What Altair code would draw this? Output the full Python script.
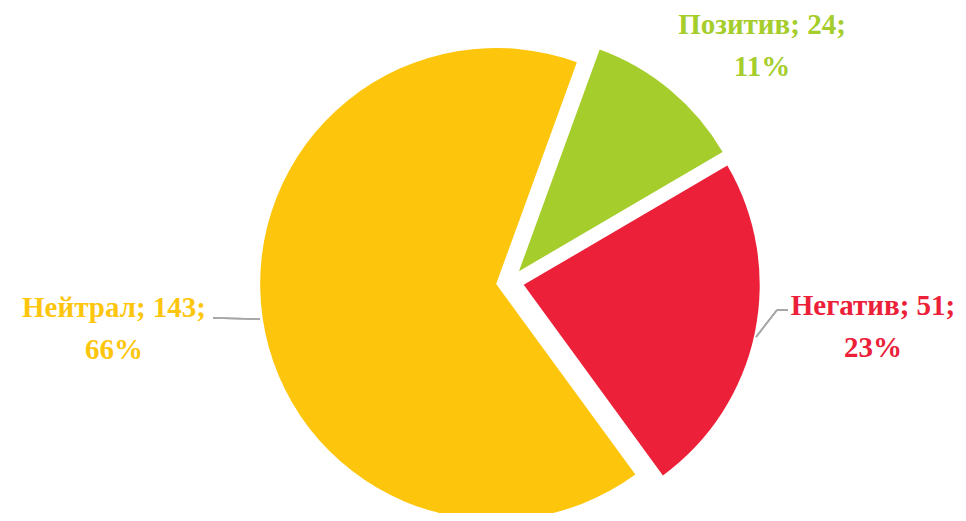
import math
import altair as alt
import pandas as pd

# ---- data ----
categories = ["Позитив", "Негатив", "Нейтрал"]
values = [24, 51, 143]
colors = ["#A5CD2B", "#EC2039", "#FDC60D"]

# ---- layout / style ----
W, H = 950, 505
CX, CY = 502, 274
R = 236
EXPLODE = 14
START = math.radians(20)
label_x = [754, 865, 106]
label_y = [26, 307, 309]
FONT = "Liberation Serif"
FS = 29
LH = 42

total = sum(values)
percents = [f"{round(v / total * 100)}%" for v in values]
labels = [f"{c}; {v};\n{p}" for c, v, p in zip(categories, values, percents)]

df = pd.DataFrame({"cat": categories, "value": values, "color": colors,
                   "order": list(range(len(values)))})

base = (
    alt.Chart(df)
    .transform_joinaggregate(total="sum(value)")
    .transform_window(cum="sum(value)", sort=[alt.SortField("order")], frame=[None, 0])
    .transform_calculate(
        t0=f"{START} + 2*PI*(datum.cum - datum.value)/datum.total",
        t1=f"{START} + 2*PI*datum.cum/datum.total",
    )
)

layers = []
cum = 0
for c, v in zip(categories, values):
    mid = START + 2 * math.pi * (cum + v / 2) / total
    cum += v
    dx = EXPLODE * math.sin(mid)
    dy = -EXPLODE * math.cos(mid)
    layers.append(
        base.transform_filter(alt.datum.cat == c)
        .mark_arc(outerRadius=R, xOffset=dx, yOffset=dy)
        .encode(
            theta=alt.Theta("t0:Q", scale=None),
            theta2=alt.Theta2("t1:Q"),
            color=alt.Color("color:N", scale=None),
            x=alt.value(CX),
            y=alt.value(CY),
        )
    )

ldf = pd.DataFrame({"label": labels, "color": colors, "lx": label_x, "ly": label_y})
text = alt.Chart(ldf).mark_text(
    font=FONT, fontSize=FS, fontWeight="bold", lineBreak="\n", lineHeight=LH,
    align="center", baseline="alphabetic",
).encode(
    x=alt.X("lx:Q", scale=None),
    y=alt.Y("ly:Q", scale=None),
    text="label:N",
    color=alt.Color("color:N", scale=None),
)

LINE = "#A6A6A6"
def seg(x1, y1, x2, y2):
    return alt.Chart(df).mark_rule(color=LINE, strokeWidth=1.5).encode(
        x=alt.value(x1), y=alt.value(y1), x2=alt.value(x2), y2=alt.value(y2)
    )

leaders = [seg(205, 310, 252, 311), seg(780, 302, 769, 302), seg(769, 302, 748, 329)]

chart = alt.layer(*layers, *leaders, text).properties(
    width=W, height=H, autosize=alt.AutoSizeParams(type="none"), padding=0
).configure_view(stroke=None)

chart.save("out.html", embed_options={"renderer": "svg", "actions": False})
